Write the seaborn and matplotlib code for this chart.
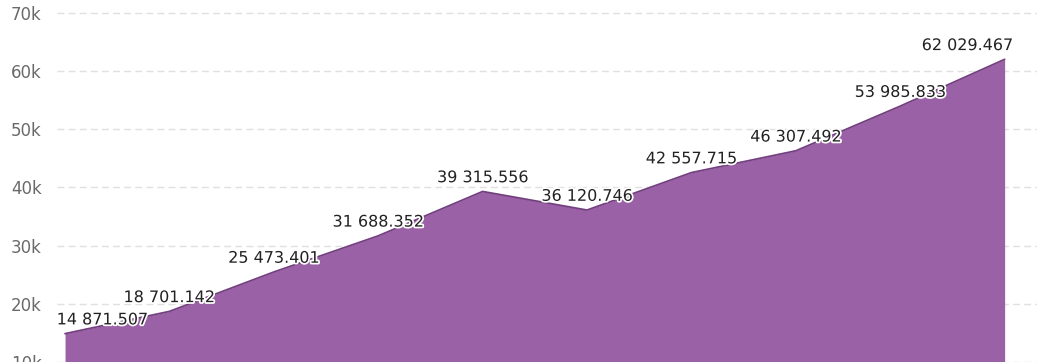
import matplotlib
matplotlib.use('Agg')
import matplotlib.pyplot as plt
import matplotlib.patheffects as pe
import seaborn as sns
import pandas as pd

# data
points = list(range(10))
values = [14871.507, 18701.142, 25473.401, 31688.352, 39315.556,
          36120.746, 42557.715, 46307.492, 53985.833, 62029.467]
labels = ['14 871.507', '18 701.142', '25 473.401', '31 688.352', '39 315.556',
          '36 120.746', '42 557.715', '46 307.492', '53 985.833', '62 029.467']
yticks = [10000, 20000, 30000, 40000, 50000, 60000, 70000]
ytick_labels = ['10k', '20k', '30k', '40k', '50k', '60k', '70k']

df = pd.DataFrame({'point': points, 'value': values})

sns.set_style('white')
plt.rcParams['font.family'] = ['DejaVu Sans']

fig = plt.figure(figsize=(10.37, 3.62), dpi=100, facecolor='white')
ax = fig.add_axes([57 / 1037, 0, 980 / 1037, 1])

# area + outline
ax.fill_between(df['point'], df['value'], 0, color='#9b61a6', linewidth=0, zorder=2)
sns.lineplot(data=df, x='point', y='value', color='#73407f', linewidth=1.3, ax=ax, zorder=3)

# value labels above the points
for i, (x, y, lab) in enumerate(zip(df['point'], df['value'], labels)):
    ha, dx = 'center', 0
    if i == 0:
        ha, dx = 'left', -6
    elif i == len(points) - 1:
        ha, dx = 'right', 6
    ax.annotate(lab, (x, y), xytext=(dx, 4.5), textcoords='offset points',
                ha=ha, va='bottom', fontsize=11.5, color='#222222', zorder=4,
                path_effects=[pe.withStroke(linewidth=2.5, foreground='white')])

ax.set_xlim(-0.077, 9.31)
ax.set_ylim(10000, 72230)
ax.set_yticks(yticks)
ax.set_yticklabels(ytick_labels)
ax.set_xticks([])
ax.set_xlabel('')
ax.set_ylabel('')
ax.tick_params(axis='y', length=0, pad=11, labelsize=12, labelcolor='#6a6a6a')
ax.grid(axis='y', color='#e0e0e0', linestyle=(0, (5, 3)), linewidth=1, zorder=1)
ax.set_axisbelow(True)
for s in ax.spines.values():
    s.set_visible(False)

plt.savefig('out.png', dpi=100, facecolor='white')
